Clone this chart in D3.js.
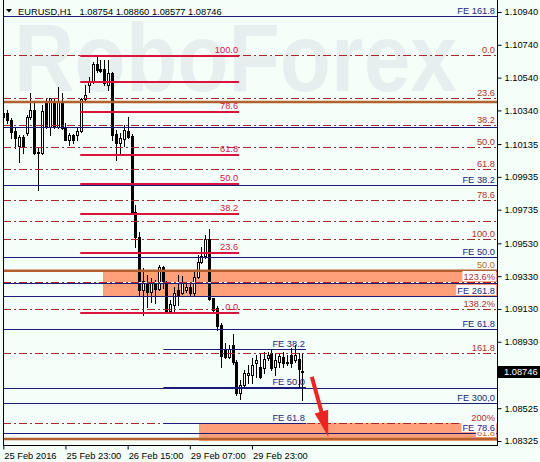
<!DOCTYPE html>
<html><head><meta charset="utf-8">
<script src="https://cdn.jsdelivr.net/npm/d3@7"></script>
<style>body{margin:0;background:#f5fffa}svg{display:block}</style>
</head><body>
<svg id="c" width="540" height="462"></svg>
<script>
// ---------------- DATA ----------------
const symbol = "EURUSD,H1";
const headerValues = ["1.08754", "1.08860", "1.08577", "1.08746"];
const xTickIndex = [0, 16, 32, 48, 64];
const xTickLabels = ["25 Feb 2016", "25 Feb 23:00", "26 Feb 15:00", "29 Feb 07:00", "29 Feb 23:00"];
const yTickValues = [1.10940, 1.10740, 1.10540, 1.10340, 1.10135, 1.09935, 1.09735, 1.09530, 1.09330, 1.09130, 1.08930, 1.08525, 1.08325];
const currentPrice = 1.08746;

const opens = [1.10300,1.10324,1.10282,1.10214,1.10123,1.10178,1.10202,1.10300,1.10342,1.10086,
1.10080,1.10385,1.10239,1.10391,1.10239,1.10391,1.10233,1.10160,1.10190,1.10190,
1.10214,1.10410,1.10495,1.10513,1.10623,1.10592,1.10592,1.10495,1.10568,1.10196,
1.10141,1.10166,1.10214,1.10184,1.09721,1.09568,1.09245,1.09294,1.09233,1.09288,
1.09251,1.09385,1.09288,1.09117,1.09154,1.09245,1.09227,1.09245,1.09263,1.09227,
1.09324,1.09416,1.09452,1.09556,1.09196,1.09135,1.09032,1.08879,1.08837,1.08910,
1.08806,1.08617,1.08666,1.08727,1.08727,1.08800,1.08776,1.08770,1.08831,1.08861,
1.08776,1.08806,1.08837,1.08800,1.08849,1.08818,1.08825,1.08754];
const highs = [1.10342,1.10342,1.10294,1.10239,1.10190,1.10190,1.10312,1.10446,1.10385,1.10117,
1.10373,1.10416,1.10416,1.10416,1.10483,1.10446,1.10263,1.10202,1.10196,1.10239,
1.10416,1.10495,1.10544,1.10635,1.10666,1.10647,1.10647,1.10647,1.10574,1.10221,
1.10202,1.10251,1.10300,1.10196,1.09763,1.09599,1.09379,1.09337,1.09318,1.09306,
1.09398,1.09391,1.09300,1.09184,1.09263,1.09337,1.09331,1.09288,1.09288,1.09367,
1.09459,1.09507,1.09580,1.09617,1.09196,1.09148,1.09044,1.08922,1.08910,1.08977,
1.08818,1.08697,1.08758,1.08788,1.08831,1.08849,1.08861,1.08867,1.08867,1.08879,
1.08855,1.08861,1.08867,1.08849,1.08892,1.08910,1.08861,1.08860];
const lows = [1.10288,1.10263,1.10172,1.10111,1.10025,1.10080,1.10190,1.10288,1.10074,1.09855,
1.10074,1.10233,1.10190,1.10233,1.10233,1.10227,1.10160,1.10129,1.10141,1.10160,
1.10208,1.10403,1.10452,1.10507,1.10574,1.10574,1.10495,1.10464,1.10160,1.10038,
1.10080,1.10123,1.10172,1.09708,1.09507,1.09215,1.09093,1.09142,1.09172,1.09166,
1.09245,1.09257,1.09105,1.09105,1.09105,1.09154,1.09221,1.09233,1.09215,1.09209,
1.09318,1.09410,1.09440,1.09184,1.09105,1.09001,1.08776,1.08831,1.08831,1.08794,
1.08605,1.08581,1.08654,1.08678,1.08678,1.08715,1.08709,1.08739,1.08818,1.08758,
1.08727,1.08776,1.08776,1.08788,1.08776,1.08806,1.08648,1.08577];
const closes = [1.10324,1.10282,1.10208,1.10172,1.10178,1.10117,1.10300,1.10342,1.10080,1.10080,
1.10336,1.10239,1.10416,1.10239,1.10391,1.10233,1.10160,1.10190,1.10160,1.10214,
1.10410,1.10434,1.10513,1.10623,1.10586,1.10580,1.10507,1.10568,1.10190,1.10141,
1.10172,1.10221,1.10178,1.09721,1.09568,1.09245,1.09300,1.09233,1.09288,1.09251,
1.09385,1.09294,1.09117,1.09160,1.09227,1.09215,1.09294,1.09263,1.09227,1.09324,
1.09416,1.09452,1.09556,1.09190,1.09123,1.09026,1.08843,1.08837,1.08886,1.08806,
1.08617,1.08666,1.08739,1.08739,1.08788,1.08818,1.08715,1.08825,1.08849,1.08770,
1.08818,1.08843,1.08800,1.08806,1.08800,1.08849,1.08764,1.08746];

// Fibonacci retracement (dash-dot, full width)
const dashLevels = [1.10678, 1.10416, 1.10251, 1.10117, 1.09983, 1.09794, 1.09666, 1.09556, 1.09294, 1.09129, 1.08861, 1.08434];
const dashLabels = ["0.0", "23.6", "38.2", "50.0", "61.8", "78.6", "", "100.0", "123.6%", "138.2%", "161.8", "200%"];
// Fibonacci retracement (solid red, partial)
const redLevels = [1.10670, 1.10515, 1.10332, 1.10068, 1.09890, 1.09707, 1.09473, 1.09103];
const redLabels = ["100.0", "", "78.6", "61.8", "50.0", "38.2", "23.6", "0.0"];
const redSpan = [19.8, 60.7];
// Brown fibo lines (full width)
const brownLevels = [1.10391, 1.09363, 1.08337];
const brownLabels = ["", "50.0", "61.8"];
// Fibo expansion lines (navy, full width)
const navyLevels = [1.10915, 1.10237, 1.09885, 1.09444, 1.09286, 1.09209, 1.09007, 1.08646, 1.08556, 1.08375];
const navyLabels = ["FE 161.8", "", "FE 38.2", "FE 50.0", "", "FE 261.8", "FE 61.8", "", "FE 300,0", "FE 78.6"];
// Fibo expansion lines (navy, partial)
const feLevels = [1.08884, 1.08657, 1.08433];
const feLabels = ["FE 38.2", "FE 50.0", "FE 61.8"];
const feSpan = [41.2, 77.9];
// Target zones
const zoneStart = [25.7, 50.4];
const zoneTop = [1.09361, 1.08434];
const zoneBottom = [1.09209, 1.08323];
// Forecast arrow
const arrowFrom = [79.4, 1.08717];
const arrowTo = [83.65, 1.08351];

// ---------------- DRAW ----------------
const W = 540, H = 462;
const BG = "#f5fffa";
const FONT = "Liberation Sans, Arial, sans-serif";
const FS = 9.3;
const plotL = 3, plotR = 497, plotB = 445;

const svg = d3.select("#c");
svg.append("rect").attr("width", W).attr("height", H).attr("fill", BG);

const x = d3.scaleLinear().domain([0, 127.3]).range([3.3, 497.9]);
const y = d3.scaleLinear().domain([1.10940, 1.08325]).range([12, 441]);
const ry = v => Math.round(y(v));

svg.append("clipPath").attr("id", "pc").append("rect")
  .attr("x", plotL).attr("y", 0).attr("width", plotR - plotL).attr("height", plotB);
const plot = svg.append("g").attr("clip-path", "url(#pc)");

// watermark
plot.append("text").attr("x", 14).attr("y", 91)
  .attr("font-family", FONT).attr("font-weight", "bold").attr("font-size", 96)
  .attr("fill", "#e6efed").attr("textLength", 443).attr("lengthAdjust", "spacingAndGlyphs")
  .text("RoboForex");

// zones
const zones = zoneStart.map((s, i) => ({ s, t: zoneTop[i], b: zoneBottom[i] }));
plot.selectAll(".zone").data(zones).enter().append("rect")
  .attr("x", d => Math.round(x(d.s))).attr("width", d => plotR - Math.round(x(d.s)))
  .attr("y", d => ry(d.t)).attr("height", d => ry(d.b) - ry(d.t))
  .attr("fill", "#ffa07a");

// candles
const candles = opens.map((o, i) => ({ i, o, h: highs[i], l: lows[i], c: closes[i] }));
const cg = plot.append("g");
candles.forEach(d => {
  const cx = Math.round(x(d.i));
  cg.append("line").attr("x1", cx + 0.5).attr("x2", cx + 0.5)
    .attr("y1", ry(d.h)).attr("y2", ry(d.l) + 1).attr("stroke", "#000").attr("stroke-width", 1);
  const top = ry(Math.max(d.o, d.c)), bot = ry(Math.min(d.o, d.c));
  if (d.c < d.o || bot - top < 2) {
    cg.append("rect").attr("x", cx - 1).attr("width", 3)
      .attr("y", top).attr("height", Math.max(1, bot - top + 1)).attr("fill", "#000");
  } else {
    cg.append("rect").attr("x", cx - 0.5).attr("width", 2)
      .attr("y", top + 0.5).attr("height", bot - top)
      .attr("fill", "#fff").attr("stroke", "#000").attr("stroke-width", 1);
  }
});

// label helper
const labels = [];
function label(txt, xr, lineY, color) {
  if (!txt) return;
  labels.push({ txt, xr, lineY, color });
}
function inZone(x0, x1, y0, y1) {
  return zones.some(z => {
    const zx = x(z.s), zt = y(z.t), zb = y(z.b);
    return x1 > zx && y1 > zt && y0 < zb;
  });
}

// dash-dot lines: background gap fill within zones
const lg = plot.append("g");
dashLevels.forEach((v, k) => {
  const yy = ry(v) + 0.5;
  zones.forEach(z => {
    if (v <= z.t - 1e-6 && v >= z.b + 1e-6) {
      lg.append("line").attr("x1", x(z.s)).attr("x2", plotR).attr("y1", yy).attr("y2", yy)
        .attr("stroke", BG).attr("stroke-width", 1);
    }
  });
  lg.append("line").attr("x1", plotL).attr("x2", plotR).attr("y1", yy).attr("y2", yy)
    .attr("stroke", "#a52a2a").attr("stroke-width", 1).attr("stroke-dasharray", "8,3,2,3");
  label(dashLabels[k], 495, ry(v), "#b0302a");
});

// brown lines
brownLevels.forEach((v, k) => {
  const yy = y(v);
  lg.append("line").attr("x1", plotL).attr("x2", plotR).attr("y1", yy).attr("y2", yy)
    .attr("stroke", "#b4602e").attr("stroke-width", 2.5);
  label(brownLabels[k], 495, ry(v) - 1, "#c0692f");
});

// navy full-width lines
navyLevels.forEach((v, k) => {
  const yy = ry(v) + 0.5;
  lg.append("line").attr("x1", plotL).attr("x2", plotR).attr("y1", yy).attr("y2", yy)
    .attr("stroke", "#1c1c78").attr("stroke-width", 1);
  label(navyLabels[k], 495, ry(v), "#23237a");
});

// navy partial lines
feLevels.forEach((v, k) => {
  const yy = ry(v) + 0.5;
  lg.append("line").attr("x1", x(feSpan[0])).attr("x2", x(feSpan[1])).attr("y1", yy).attr("y2", yy)
    .attr("stroke", "#1c1c78").attr("stroke-width", 1);
  label(feLabels[k], x(feSpan[1]) - 1, ry(v), "#23237a");
});

// red solid fibo
redLevels.forEach((v, k) => {
  const yy = ry(v);
  lg.append("line").attr("x1", x(redSpan[0])).attr("x2", x(redSpan[1])).attr("y1", yy).attr("y2", yy)
    .attr("stroke", "#dc143c").attr("stroke-width", 2);
  label(redLabels[k], x(redSpan[1]) - 1, ry(v) - 1, "#dc143c");
});

// labels
const tg = plot.append("g").attr("font-family", FONT).attr("font-size", FS);
labels.forEach(d => {
  const t = tg.append("text").attr("x", d.xr).attr("y", d.lineY - 2.5)
    .attr("text-anchor", "end").attr("fill", d.color).text(d.txt);
  const bb = t.node().getBBox();
  if (inZone(bb.x, bb.x + bb.width, bb.y + 2, bb.y + bb.height - 1)) {
    tg.insert("rect", () => t.node()).attr("x", bb.x - 1).attr("y", d.lineY - 11)
      .attr("width", bb.width + 2).attr("height", 10).attr("fill", "#ffffff");
  }
});

// arrow
(function () {
  const sx = x(arrowFrom[0]), sy = y(arrowFrom[1]);
  const tx = x(arrowTo[0]), ty = y(arrowTo[1]);
  const dx = tx - sx, dy = ty - sy, len = Math.hypot(dx, dy);
  const ux = dx / len, uy = dy / len, nx = -uy, ny = ux;
  const L = 26, Wd = 7;
  const bx = tx - ux * L, by = ty - uy * L;
  plot.append("line").attr("x1", sx).attr("y1", sy).attr("x2", bx + ux * 2).attr("y2", by + uy * 2)
    .attr("stroke", "#ec2424").attr("stroke-width", 4);
  plot.append("polygon")
    .attr("points", [[tx, ty], [bx + nx * Wd, by + ny * Wd], [bx - nx * Wd, by - ny * Wd]].map(p => p.join(",")).join(" "))
    .attr("fill", "#ec2424");
})();

// frame
svg.append("line").attr("x1", plotL + 0.5).attr("x2", plotL + 0.5).attr("y1", 0).attr("y2", plotB + 0.5).attr("stroke", "#000");

// right axis
const yAxis = d3.axisRight(y).tickValues(yTickValues).tickFormat(d3.format(".5f")).tickSize(4).tickPadding(3);
const ya = svg.append("g").attr("transform", `translate(${plotR + 0.5},0)`).call(yAxis);
ya.select(".domain").attr("d", `M0,0V${plotB + 0.5}`).attr("stroke", "#000");
ya.selectAll(".tick line").attr("stroke", "#000");
ya.selectAll(".tick text").attr("font-family", FONT).attr("font-size", FS).attr("fill", "#000");

// current price tag
const cpy = y(currentPrice);
svg.append("rect").attr("x", plotR + 1).attr("y", Math.round(cpy) - 6).attr("width", W - plotR - 1).attr("height", 12).attr("fill", "#000");
svg.append("text").attr("x", plotR + 7).attr("y", cpy).attr("dy", "0.35em")
  .attr("font-family", FONT).attr("font-size", FS).attr("fill", "#fff").text(d3.format(".5f")(currentPrice));

// bottom axis
const xAxis = d3.axisBottom(x).tickValues(xTickIndex).tickFormat((d, i) => xTickLabels[i]).tickSize(4).tickPadding(3);
const xa = svg.append("g").attr("transform", `translate(0,${plotB + 0.5})`).call(xAxis);
xa.select(".domain").attr("d", `M${plotL},0H${plotR + 1}`).attr("stroke", "#000");
xa.selectAll(".tick line").attr("stroke", "#000");
xa.selectAll(".tick text").attr("font-family", FONT).attr("font-size", FS).attr("fill", "#000")
  .attr("text-anchor", "start").attr("x", 0.5);

// header
svg.append("polygon").attr("points", "6,9 12,9 9,12.5").attr("fill", "#000");
svg.append("text").attr("x", 18).attr("y", 14.5).attr("font-family", FONT).attr("font-size", FS)
  .attr("fill", "#000").text(symbol);
svg.append("text").attr("x", 79.5).attr("y", 14.5).attr("font-family", FONT).attr("font-size", FS)
  .attr("fill", "#000").text(headerValues.join(" "));
</script>
</body></html>
